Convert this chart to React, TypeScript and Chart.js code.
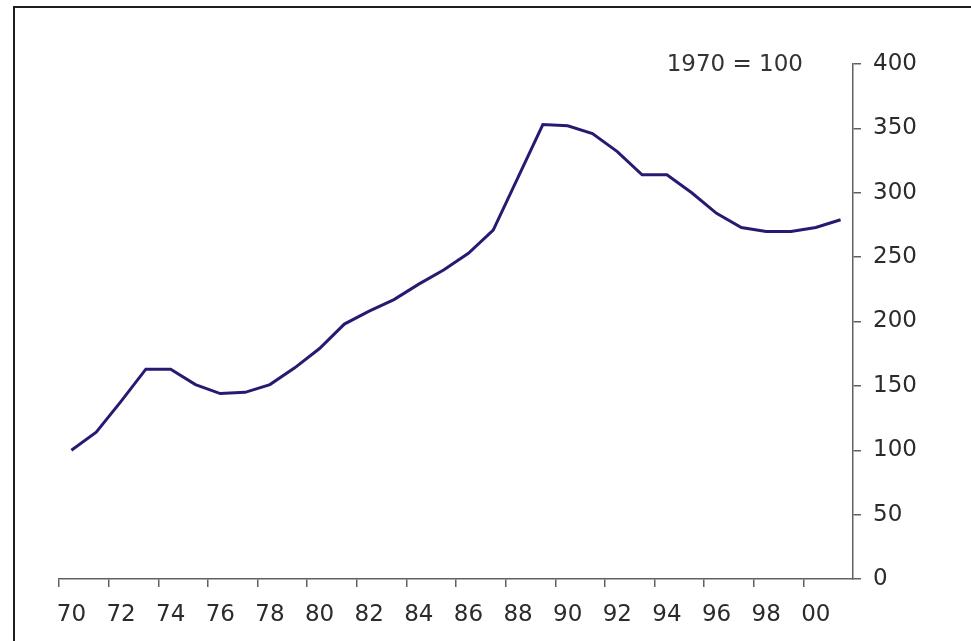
import React, { useEffect, useRef } from 'react';
import { Chart, registerables } from 'chart.js';

Chart.register(...registerables);

const years = ['70','71','72','73','74','75','76','77','78','79','80','81','82','83','84','85','86','87','88','89','90','91','92','93','94','95','96','97','98','99','00','01'];
const indexValues = [100,114,138,163,163,151,144,145,151,164,179,198,208,217,229,240,253,271,312,353,352,346,332,314,314,300,284,273,270,270,273,279];
const yTicks = [0,50,100,150,200,250,300,350,400];
const baseNote = '1970 = 100';

const FONT = 'DejaVu Sans';
const AXIS = '#606060';

export default function App() {
  const ref = useRef<HTMLCanvasElement>(null);
  useEffect(() => {
    if (!ref.current) return;
    const notePlugin = {
      id: 'note',
      afterDraw(chart: any) {
        const { ctx, chartArea, scales } = chart;
        ctx.save();
        ctx.font = `23px "${FONT}"`;
        ctx.fillStyle = '#333';
        ctx.textAlign = 'right';
        ctx.textBaseline = 'middle';
        ctx.fillText(baseNote, chartArea.right - 50, scales.y.getPixelForValue(400) + 1);
        ctx.restore();
      },
    };
    const chart = new Chart(ref.current, {
      type: 'line',
      data: {
        labels: years,
        datasets: [{
          data: indexValues,
          borderColor: '#251c72',
          borderWidth: 3,
          pointRadius: 0,
          tension: 0,
          fill: false,
        }],
      },
      options: {
        animation: false,
        responsive: false,
        layout: { padding: { left: 59, top: 64, right: 0, bottom: 0 } },
        plugins: { legend: { display: false }, tooltip: { enabled: false } },
        scales: {
          x: {
            type: 'category',
            offset: true,
            afterFit(s: any) { s.height = 62; },
            grid: {
              display: true,
              offset: true,
              drawOnChartArea: false,
              drawTicks: true,
              tickLength: 8,
              lineWidth: 1.5,
              color: (c: any) => (c.index % 2 === 0 ? AXIS : 'rgba(0,0,0,0)'),
              tickColor: (c: any) => (c.index % 2 === 0 ? AXIS : 'rgba(0,0,0,0)'),
            },
            border: { display: true, color: AXIS, width: 1.5 },
            ticks: {
              autoSkip: false,
              maxRotation: 0,
              minRotation: 0,
              padding: 14,
              color: '#2b2b2b',
              font: { family: FONT, size: 23 },
              callback: (_v: any, i: number) => (i % 2 === 0 ? years[i] : ''),
            },
          },
          y: {
            position: 'right',
            min: 0,
            max: 400,
            afterFit(s: any) { s.width = 118; },
            afterBuildTicks(s: any) { s.ticks = yTicks.map((v) => ({ value: v })); },
            grid: {
              display: true,
              drawOnChartArea: false,
              drawTicks: true,
              tickLength: 8,
              lineWidth: 1.5,
              color: AXIS,
              tickColor: AXIS,
            },
            border: { display: true, color: AXIS, width: 1.5 },
            ticks: {
              padding: 12,
              color: '#2b2b2b',
              font: { family: FONT, size: 23 },
            },
          },
        },
      },
      plugins: [notePlugin],
    });
    return () => chart.destroy();
  }, []);
  return (
    <>
      <div style={{ position: 'absolute', left: 13, top: 6, width: 956, height: 633, borderLeft: '2px solid #1e1e1e', borderTop: '2px solid #1e1e1e' }} />
      <canvas ref={ref} width={971} height={641} style={{ position: 'absolute', left: 0, top: 0, display: 'block' }} />
    </>
  );
}
